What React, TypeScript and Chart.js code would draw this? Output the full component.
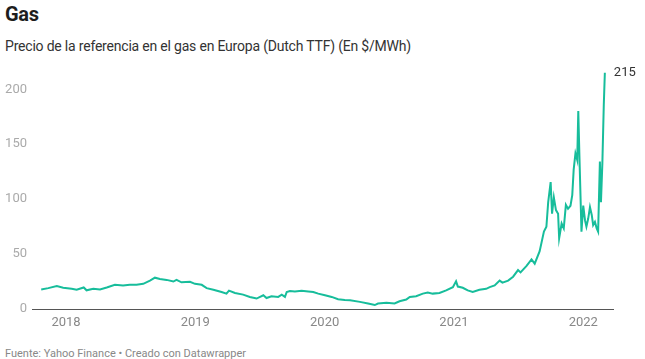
import React, { useEffect, useRef } from "react";
import { Chart, registerables } from "chart.js";

Chart.register(...registerables);

const DATES = [
  "2017-10-23","2017-11-12","2017-12-06","2017-12-24","2018-01-17","2018-01-31","2018-02-20","2018-02-28",
  "2018-03-19","2018-04-07","2018-04-26","2018-05-19","2018-06-11","2018-06-30","2018-07-19","2018-08-07",
  "2018-08-26","2018-09-09","2018-09-23","2018-10-12","2018-10-31","2018-11-09","2018-11-23","2018-12-17",
  "2018-12-31","2019-01-19","2019-02-02","2019-02-21","2019-03-16","2019-03-30","2019-04-06","2019-04-23",
  "2019-05-16","2019-06-04","2019-06-23","2019-07-12","2019-07-21","2019-08-04","2019-08-23","2019-09-02",
  "2019-09-11","2019-09-16","2019-09-25","2019-10-09","2019-10-28","2019-11-16","2019-11-30","2019-12-14",
  "2020-01-02","2020-01-21","2020-02-08","2020-02-27","2020-03-13","2020-04-10","2020-05-03","2020-05-22",
  "2020-05-31","2020-06-24","2020-07-17","2020-07-31","2020-08-19","2020-08-29","2020-09-16","2020-10-05",
  "2020-10-19","2020-11-02","2020-11-21","2020-12-10","2020-12-29","2021-01-07","2021-01-12","2021-01-26",
  "2021-02-09","2021-02-23","2021-03-14","2021-04-02","2021-04-12","2021-04-26","2021-05-10","2021-05-18",
  "2021-06-03","2021-06-17","2021-07-01","2021-07-08","2021-07-25","2021-08-08","2021-08-17","2021-08-31",
  "2021-09-12","2021-09-19","2021-09-24","2021-10-01","2021-10-05","2021-10-10","2021-10-16","2021-10-22",
  "2021-10-25","2021-11-01","2021-11-07","2021-11-13","2021-11-19","2021-11-26","2021-12-01","2021-12-05",
  "2021-12-10","2021-12-15","2021-12-18","2021-12-21","2021-12-27","2022-01-01","2022-01-06","2022-01-10",
  "2022-01-15","2022-01-20","2022-01-25","2022-01-29","2022-02-03","2022-02-08","2022-02-12","2022-02-17",
  "2022-02-20","2022-02-24","2022-02-28","2022-03-03",
];

const PRICES = [
  17.8, 19, 20.8, 19.3, 18.4, 17.5, 19.6, 17,
  18.4, 17.8, 19.6, 22, 21.4, 22, 22, 22.9,
  25.8, 28.5, 27.3, 26.5, 25, 26.5, 24.3, 24.8,
  22.9, 22, 19, 17.5, 15.5, 14, 16.7, 14.6,
  13.1, 11, 9.5, 12.5, 10, 11.6, 11, 13,
  11, 15.5, 16.3, 16, 16.6, 16, 15.5, 14,
  12.5, 11, 8.9, 8.3, 8, 6.5, 5, 3.6,
  5, 5.6, 5, 7, 8.6, 11, 11.6, 14,
  14.9, 14, 14.6, 16.9, 19.9, 25.2, 20.4, 19.3,
  16.9, 15.5, 17.5, 18.4, 19.9, 21.4, 25.8, 24,
  25.8, 29.4, 35.4, 33.3, 39.2, 45.2, 41.3, 52.6,
  70.4, 74.9, 97.1, 115.6, 86.7, 101.6, 90, 86.7,
  64.4, 77.8, 73.4, 94.8, 91.2, 94, 103.7, 126.8,
  141.7, 135.7, 180.3, 141.7, 70.4, 94.2, 80.8, 75,
  82.3, 92.7, 85.6, 76.4, 79.3, 73.4, 70.4, 134.3,
  97.1, 133, 186, 215,
];

const YEAR_TICKS = [2018, 2019, 2020, 2021, 2022];
const VALUE_TICKS = [0, 50, 100, 150, 200];
const X_RANGE = ["2017-09-27", "2022-03-26"];
const LAST_LABEL = "215";

function toYear(s: string): number {
  const [y, m, d] = s.split("-").map(Number);
  const t = Date.UTC(y, m - 1, d);
  const a = Date.UTC(y, 0, 1);
  const b = Date.UTC(y + 1, 0, 1);
  return y + (t - a) / (b - a);
}

const FONT = "Roboto, 'Noto Sans', sans-serif";
const LINE = "#17bd9b";

export default function App() {
  const ref = useRef<HTMLCanvasElement>(null);

  useEffect(() => {
    document.body.style.margin = "0";
    const ctx = ref.current!.getContext("2d")!;
    const points = DATES.map((d, i) => ({ x: toYear(d), y: PRICES[i] }));

    const endLabel = {
      id: "endLabel",
      afterDatasetsDraw(chart: any) {
        const meta = chart.getDatasetMeta(0);
        const last = meta.data[meta.data.length - 1];
        const c = chart.ctx;
        c.save();
        c.font = `13px ${FONT}`;
        c.fillStyle = "#333";
        c.textAlign = "left";
        c.textBaseline = "middle";
        c.fillText(LAST_LABEL, last.x + 9, last.y);
        c.restore();
      },
    };

    const chart = new Chart(ctx, {
      type: "line",
      data: {
        datasets: [
          {
            data: points,
            borderColor: LINE,
            borderWidth: 2,
            pointRadius: 0,
            tension: 0,
            fill: false,
            clip: false as any,
          },
        ],
      },
      options: {
        animation: false,
        responsive: false,
        parsing: false as any,
        layout: { padding: { top: 8, right: 32, left: 0, bottom: 0 } },
        plugins: {
          legend: { display: false },
          tooltip: { enabled: false },
        },
        scales: {
          x: {
            type: "linear",
            min: toYear(X_RANGE[0]),
            max: toYear(X_RANGE[1]),
            afterBuildTicks: (scale: any) => {
              scale.ticks = YEAR_TICKS.map((v) => ({ value: v }));
            },
            afterFit: (scale: any) => {
              scale.height = 31;
            },
            grid: { display: false, drawTicks: false },
            border: { display: true, color: "#555", width: 1 },
            ticks: {
              padding: 6,
              color: "#888",
              font: { family: FONT, size: 13 },
              callback: (v: any) => String(v),
              maxRotation: 0,
            },
          },
          y: {
            min: 0,
            max: 215,
            afterBuildTicks: (scale: any) => {
              scale.ticks = VALUE_TICKS.map((v) => ({ value: v }));
            },
            afterFit: (scale: any) => {
              scale.width = 32;
            },
            grid: { display: false, drawTicks: false },
            border: { display: false },
            ticks: {
              padding: 5,
              color: "#aaa",
              font: { family: FONT, size: 13 },
            },
          },
        },
      },
      plugins: [endLabel],
    });
    return () => chart.destroy();
  }, []);

  return (
    <div style={{ position: "absolute", left: 0, top: 0, width: 645, height: 359, background: "#fff", fontFamily: FONT }}>
      <div style={{ position: "absolute", left: 5, top: 1, fontSize: 20, fontWeight: 700, color: "#1d1d1d", lineHeight: "26px", letterSpacing: "-0.3px" }}>Gas</div>
      <div style={{ position: "absolute", left: 5, top: 36, fontSize: 14, color: "#333", lineHeight: "20px", letterSpacing: "-0.2px" }}>
        Precio de la referencia en el gas en Europa (Dutch TTF) (En $/MWh)
      </div>
      <canvas ref={ref} width={645} height={280} style={{ position: "absolute", left: 0, top: 60, width: 645, height: 280 }} />
      <div style={{ position: "absolute", left: 5, top: 347, fontSize: 11, color: "#888", lineHeight: "14px" }}>
        Fuente: Yahoo Finance • Creado con Datawrapper
      </div>
    </div>
  );
}
